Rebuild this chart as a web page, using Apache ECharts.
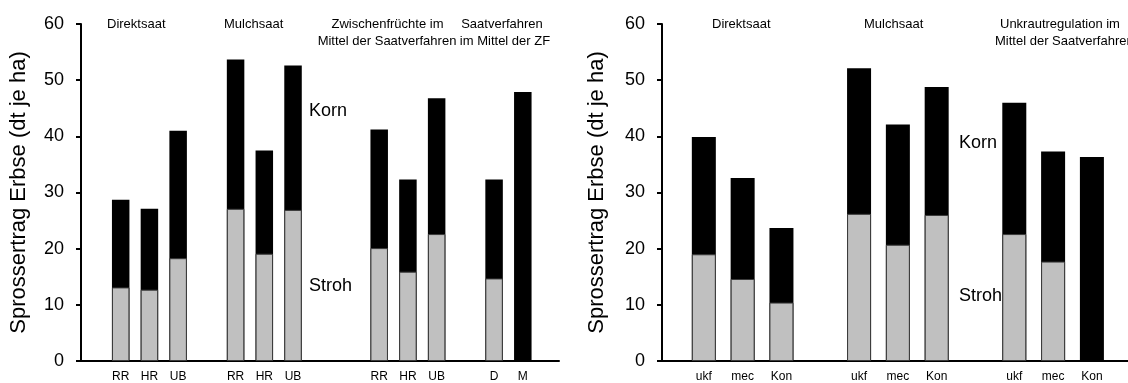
<!DOCTYPE html>
<html><head><meta charset="utf-8">
<script src="https://cdn.jsdelivr.net/npm/echarts@6/dist/echarts.min.js"></script>
<style>html,body{margin:0;padding:0;background:#fff;} #c{width:1128px;height:383px;}</style>
</head><body><div id="c"></div>
<script>
// ---- data ----
// '' marks an empty slot between groups
const leftCategories = ['RR','HR','UB','','RR','HR','UB','','','RR','HR','UB','','D','M'];
const leftStroh  = [13.1,12.7,18.3,null,27.1,19.1,26.9,null,null,20.1,15.9,22.6,null,14.7,null];
const leftTotal  = [28.7,27.1,41.0,null,53.7,37.5,52.6,null,null,41.2,32.3,46.8,null,32.3,47.9];

const rightCategories = ['ukf','mec','Kon','','ukf','mec','Kon','','ukf','mec','Kon'];
const rightStroh = [19.0,14.6,10.4,null,26.2,20.7,26.0,null,22.6,17.7,null];
const rightTotal = [39.9,32.6,23.7,null,52.1,42.1,48.8,null,46.0,37.3,36.3];

const yTitle = 'Sprossertrag Erbse (dt je ha)';
const leftHeads = ['Direktsaat','Mulchsaat','Zwischenfrüchte im','Mittel der Saatverfahren','Saatverfahren','im Mittel der ZF'];
const rightHeads = ['Direktsaat','Mulchsaat','Unkrautregulation im','Mittel der Saatverfahren'];
const partNames = ['Korn','Stroh'];

// ---- helpers ----
const FONT = 'Liberation Sans, Arial, sans-serif';
function pairs(vals){ return vals.map((v,i)=> v==null ? null : [i,v]).filter(Boolean); }
function labelIdx(cats){ return cats.map((c,i)=> c ? i : null).filter(v=>v!==null); }

function xAx(cats, grid, min, max){
  return {
    type:'value', gridIndex:grid, min:min, max:max,
    axisLine:{show:true, onZero:true, lineStyle:{color:'#000', width:2}},
    axisTick:{show:false}, splitLine:{show:false},
    axisLabel:{customValues:labelIdx(cats), formatter:v=>cats[Math.round(v)]||'',
      color:'#000', fontFamily:FONT, fontSize:12, margin:10}
  };
}
function yAx(grid, gap){
  return {
    type:'value', gridIndex:grid, min:0, max:60, interval:10,
    name:yTitle, nameLocation:'middle', nameGap:gap, nameRotate:90,
    nameTextStyle:{color:'#000', fontFamily:FONT, fontSize:22},
    axisLine:{show:true, onZero:false, lineStyle:{color:'#000', width:2}},
    axisTick:{show:true, inside:false, length:5, lineStyle:{color:'#000', width:2}},
    splitLine:{show:false},
    axisLabel:{color:'#000', fontFamily:FONT, fontSize:18, margin:17}
  };
}
function bars(grid, total, stroh, w){
  return [
    {type:'bar', xAxisIndex:grid, yAxisIndex:grid, data:pairs(total), barWidth:w, barGap:'-100%',
     itemStyle:{color:'#000'}, silent:true, animation:false},
    {type:'bar', xAxisIndex:grid, yAxisIndex:grid, data:pairs(stroh), barWidth:w, barGap:'-100%',
     itemStyle:{color:'#c0c0c0', borderColor:'#3a3a3a', borderWidth:1}, silent:true, animation:false}
  ];
}
function txt(t, x, y, size, align){
  return {type:'text', x:x, y:y, silent:true,
    style:{text:t, fill:'#000', fontFamily:FONT, fontSize:size, align:align||'left', verticalAlign:'middle'}};
}

const chart = echarts.init(document.getElementById('c'), null, {renderer:'canvas'});
chart.setOption({
  animation:false,
  backgroundColor:'#fff',
  grid:[
    {left:81, top:24, width:478, bottom:19.7, containLabel:false},
    {left:662, top:24, width:470, bottom:19.7, containLabel:false}
  ],
  xAxis:[ xAx(leftCategories,0,-1.382,15.26), xAx(rightCategories,1,-1.078,10.93) ],
  yAxis:[ yAx(0,51), yAx(1,54) ],
  series:[ ...bars(0,leftTotal,leftStroh,17.5), ...bars(1,rightTotal,rightStroh,24) ],
  graphic:[
    txt(leftHeads[0],107,24,13), txt(leftHeads[1],224,24,13),
    txt(leftHeads[2],387.5,24,13,'center'), txt(leftHeads[3],387,41,13,'center'),
    txt(leftHeads[4],502,24,13,'center'), txt(leftHeads[5],505,41,13,'center'),
    txt(partNames[0],309,111,18), txt(partNames[1],309,286,18),
    txt(rightHeads[0],712,24,13), txt(rightHeads[1],864,24,13),
    txt(rightHeads[2],1000,24,13), txt(rightHeads[3],995,41,13),
    txt(partNames[0],959,143,18), txt(partNames[1],959,296,18)
  ]
});
</script></body></html>
